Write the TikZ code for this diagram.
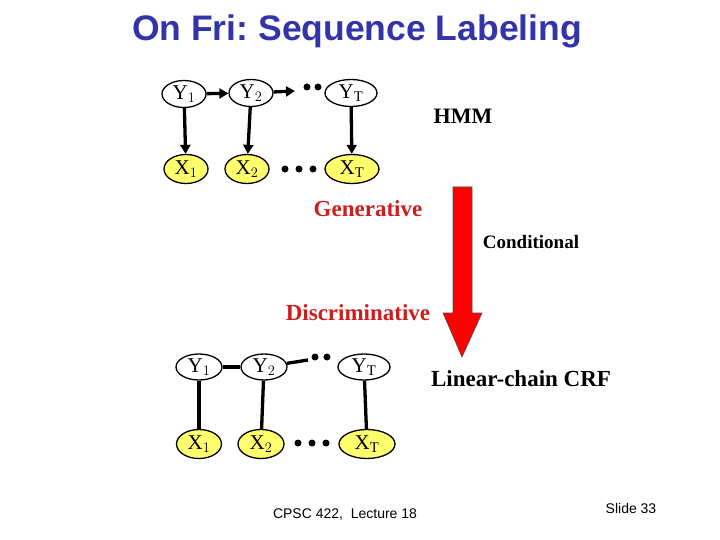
\documentclass[tikz,border=0pt]{standalone}
\usepackage{fontspec}
\setmainfont{Liberation Serif}
\newfontfamily\arialfont{Liberation Sans}
\usetikzlibrary{shapes.geometric,arrows.meta}
\definecolor{titleblue}{RGB}{51,51,170}
\definecolor{obsyellow}{RGB}{255,255,110}
\definecolor{genred}{RGB}{204,30,30}
\frenchspacing
\begin{document}
\begin{tikzpicture}[x=1pt,y=-1pt,
  hid/.style={ellipse, draw, line width=1.3pt, fill=white, minimum width=44pt, minimum height=27pt, inner sep=0pt, font=\fontsize{21}{21}\selectfont},
  obs/.style={hid, fill=obsyellow, minimum height=29pt},
  dirarc/.style={line width=3.3pt, -{Triangle[length=9pt,width=10pt]}},
  undarc/.style={line width=3.3pt},
  dotc/.style={circle, fill=black, inner sep=0pt, minimum size=7pt},
  redlab/.style={text=genred, font=\fontsize{23}{23}\selectfont\bfseries},
  blacklab/.style={font=\fontsize{22}{22}\selectfont\bfseries},
  foot/.style={font=\arialfont\fontsize{14}{14}\selectfont}]
\useasboundingbox (0,0) rectangle (720,540);
% title
\node (title) at (357,31) {\arialfont\bfseries\fontsize{35.5}{35.5}\selectfont\color{titleblue}On Fri: Sequence Labeling};
% HMM
\node[hid] (y1) at (184,94) {Y$_1$};
\node[hid] (y2) at (251,93) {Y$_2$};
\node[hid, minimum width=52pt] (yT) at (351,93) {Y$_\mathrm{T}$};
\node[obs] (x1) at (186,169) {X$_1$};
\node[obs] (x2) at (247,169) {X$_2$};
\node[obs, minimum width=54pt] (xT) at (352,169) {X$_\mathrm{T}$};
\coordinate (ya) at (295,91);
\node[dotc] (d1) at (307,87) {};
\node[dotc] (d2) at (318,87) {};
\node[dotc] (d3) at (285,169) {};
\node[dotc] (d4) at (299,169) {};
\node[dotc] (d5) at (313,169) {};
\draw[dirarc] (y1) -- (y2);
\draw[dirarc] (y2) -- (ya);
\draw[dirarc] (y1) -- (x1);
\draw[dirarc] (y2) -- (x2);
\draw[dirarc] (yT) -- (xT);
\node[blacklab] (hmm) at (463,116) {HMM};
% labels and red arrow
\node[redlab] (gen) at (368,209) {Generative};
\node[redlab] (disc) at (358,313) {Discriminative};
\node[font=\fontsize{19}{19}\selectfont\bfseries] (cond) at (531,242) {Conditional};
\filldraw[fill=red, draw=black!70, line width=0.6pt] (453,187) -- (472,187) -- (472,313) -- (482,313) -- (462,357) -- (443,313) -- (453,313) -- cycle;
% CRF
\node[hid, minimum width=46pt, minimum height=26pt] (cy1) at (199,367) {Y$_1$};
\node[hid, minimum width=46pt, minimum height=26pt] (cy2) at (264,367) {Y$_2$};
\node[hid, minimum width=52pt, minimum height=26pt] (cyT) at (364,367) {Y$_\mathrm{T}$};
\node[obs, minimum width=45pt] (cx1) at (199,444) {X$_1$};
\node[obs, minimum width=46pt] (cx2) at (261,444) {X$_2$};
\node[obs, minimum width=56pt] (cxT) at (367,444) {X$_\mathrm{T}$};
\coordinate (cya) at (308,360);
\node[dotc] (e1) at (315,357) {};
\node[dotc] (e2) at (327,357) {};
\node[dotc] (e3) at (298,443) {};
\node[dotc] (e4) at (312,443) {};
\node[dotc] (e5) at (326,443) {};
\draw[undarc] (cy1) -- (cy2);
\draw[undarc] (cy2) -- (cya);
\draw[undarc] (cy1) -- (cx1);
\draw[undarc] (cy2) -- (cx2);
\draw[undarc] (cyT) -- (cxT);
\node[blacklab, font=\fontsize{23}{23}\selectfont\bfseries] (crf) at (521,379) {Linear-chain CRF};
% footer
\node[foot] (lec) at (345,515) {CPSC 422,\ \ Lecture 18};
\node[foot] (slide) at (631,508) {Slide 33};
\end{tikzpicture}
\end{document}
